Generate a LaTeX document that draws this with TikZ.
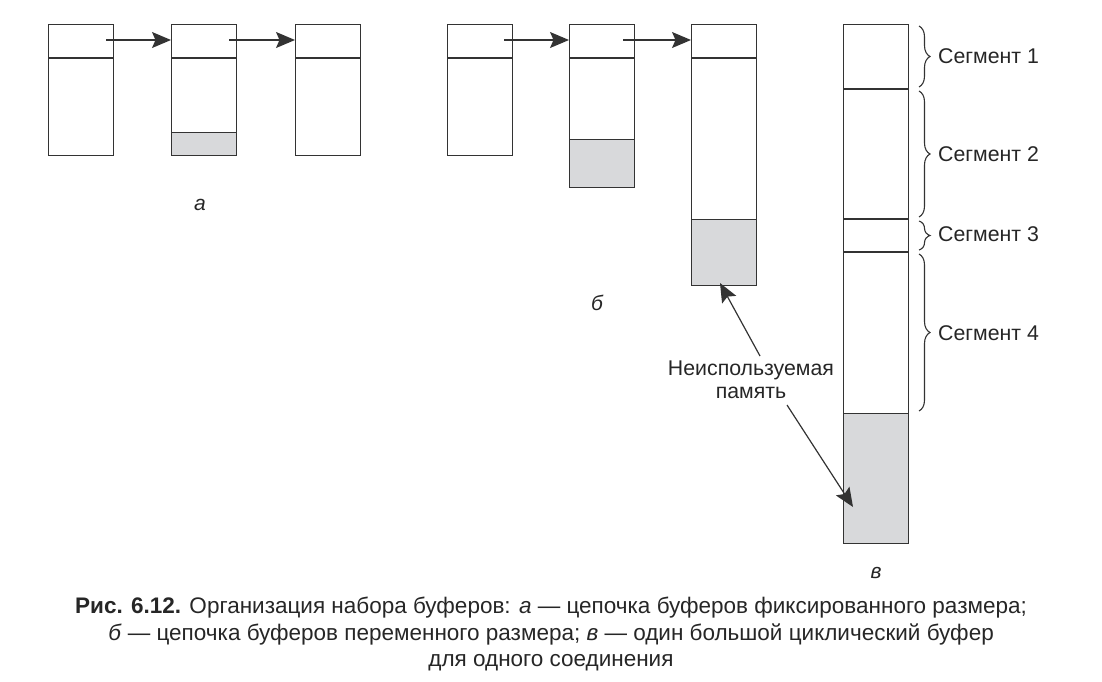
\documentclass[tikz,border=0pt]{standalone}
\usepackage{fontspec}
\setmainfont{Liberation Sans}
\newfontfamily\capfont[FakeStretch=1.0]{Liberation Sans}
\usetikzlibrary{arrows.meta,decorations.pathreplacing}
\definecolor{ln}{HTML}{333333}
\definecolor{tx}{HTML}{262626}
\definecolor{sh}{HTML}{D8D9DB}
\begin{document}
\begin{tikzpicture}[x=1pt,y=-1pt,
  buf/.style={draw=ln,line width=1.4pt,inner sep=0pt,minimum width=65pt,anchor=north west},
  shd/.style={draw=ln,fill=sh,line width=1.4pt,inner sep=0pt,minimum width=65pt,anchor=south west},
  hd/.style={draw=ln,line width=1.4pt},
  link/.style={draw=ln,line width=1.2pt,-{Stealth[length=19pt,width=16pt,inset=3.5pt]}},
  brc/.style={draw=ln,line width=1.1pt,decorate,decoration={brace,amplitude=11pt}},
  seg/.style={anchor=west,font=\fontsize{21.3}{24}\selectfont,text=tx,inner sep=0pt},
  lbl/.style={font=\fontsize{21}{24}\selectfont\itshape,text=tx,inner sep=0pt}]
\useasboundingbox (0,0) rectangle (1102,681);
% ---- a ----
\node[buf,minimum height=131pt] (a1) at (48,24) {};
\node[buf,minimum height=131pt] (a2) at (171,24) {};
\node[buf,minimum height=131pt] (a3) at (295,24) {};
\node[shd,minimum height=23pt] (a2s) at (a2.south west) {};
\foreach \b in {a1,a2,a3} \draw[hd] (\b.north west) ++(0,34) -- ++(65,0);
\coordinate (a1o) at (106,40);
\coordinate (a2o) at (229,40);
\draw[link] (a1o) -- (a2.west |- a1o);
\draw[link] (a2o) -- (a3.west |- a2o);
\node[lbl] (la) at (200,205) {а};
% ---- b ----
\node[buf,minimum height=131pt] (b1) at (447,24) {};
\node[buf,minimum height=163pt] (b2) at (569,24) {};
\node[buf,minimum height=261pt] (b3) at (691,24) {};
\node[shd,minimum height=48pt] (b2s) at (b2.south west) {};
\node[shd,minimum height=66pt] (b3s) at (b3.south west) {};
\foreach \b in {b1,b2,b3} \draw[hd] (\b.north west) ++(0,34) -- ++(65,0);
\coordinate (b1o) at (504,40);
\coordinate (b2o) at (623,40);
\draw[link] (b1o) -- (b2.west |- b1o);
\draw[link] (b2o) -- (b3.west |- b2o);
\node[lbl] (lb) at (597,303) {б};
% ---- c ----
\node[buf,minimum height=519pt] (c) at (843,24) {};
\node[shd,minimum height=130pt] (cs) at (c.south west) {};
\draw[hd] (843,89) -- (908,89);
\draw[hd] (843,219) -- (908,219);
\draw[hd] (843,252) -- (908,252);
\draw[brc] (919,26) -- (919,87);
\draw[brc] (919,91) -- (919,217);
\draw[brc] (919,221) -- (919,250);
\draw[brc] (919,254) -- (919,411);
\node[seg] (s1) at (938,56) {Сегмент 1};
\node[seg] (s2) at (938,154) {Сегмент 2};
\node[seg] (s3) at (938,234) {Сегмент 3};
\node[seg] (s4) at (938,333) {Сегмент 4};
\node[lbl] (lc) at (876,573) {в};
% ---- unused memory ----
\node[align=center,font=\fontsize{21.3}{23}\selectfont,text=tx,inner sep=2pt] (um) at (751,380) {Неиспользуемая\\память};
\draw[link] (760,356) -- (720,283);
\draw[link] (787,405) -- (853,507);
% ---- caption ----
\node[align=center,font=\capfont\fontsize{22.5}{26.5}\selectfont,text=tx] (cap) at (551,634)
 {\textbf{Рис. 6.12.} Организация набора буферов: \textit{а} — цепочка буферов фиксированного размера;\\
 \textit{б} — цепочка буферов переменного размера; \textit{в} — один большой циклический буфер\\
 для одного соединения};
\end{tikzpicture}
\end{document}
